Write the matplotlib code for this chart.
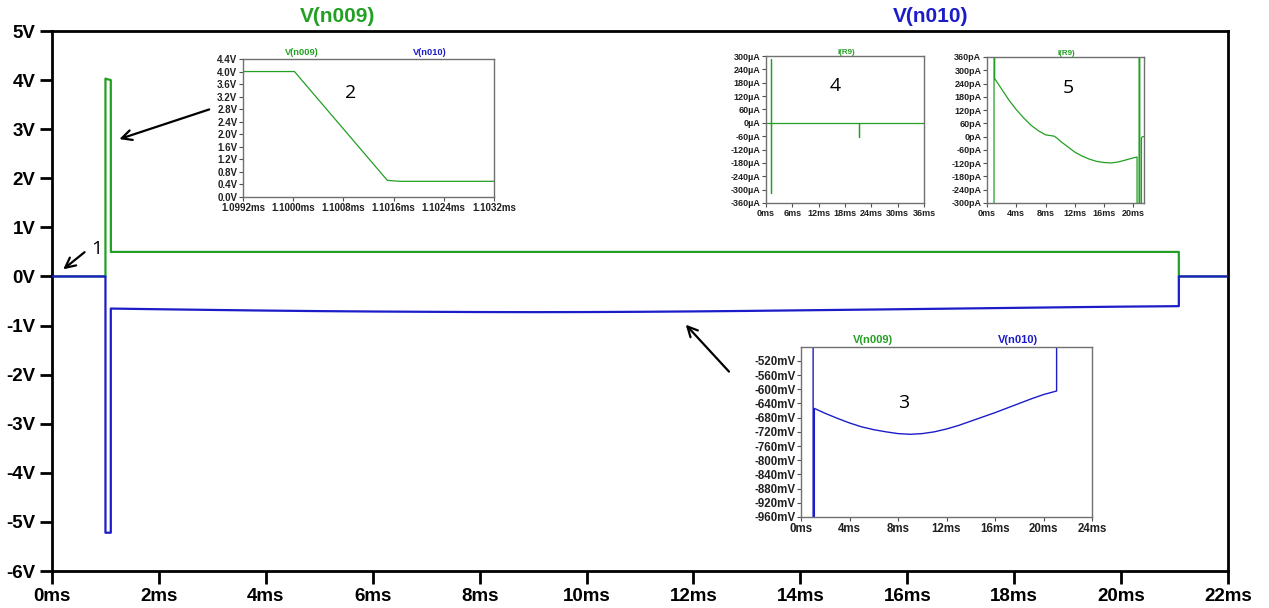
import numpy as np
import matplotlib.pyplot as plt

W, H = 1269, 608
GREEN = '#23a023'
BLUE = '#1c1cc8'
plt.rcParams['font.family'] = ['Liberation Sans', 'DejaVu Sans']

# V(n009) and V(n010), time in ms, volts
t_n009 = [0.0, 1.0, 1.0, 1.03, 1.10002, 1.1015, 1.1017, 21.08, 21.08, 22.0]
v_n009 = [0.0, 0.0, 4.03, 4.02, 4.0, 0.53, 0.5, 0.5, 0.0, 0.0]

t_n010 = [0.0, 1.0, 1.0, 1.1, 1.1, 2.0, 3.0, 4.0, 5.0, 6.0, 7.0, 8.0, 9.0,
          10.0, 11.0, 12.0, 13.0, 14.0, 15.0, 16.0, 17.0, 18.0, 19.0, 20.0,
          21.08, 21.08, 22.0]
v_n010 = [0.0, 0.0, -5.22, -5.22, -0.654, -0.668, -0.682, -0.695, -0.706,
          -0.714, -0.720, -0.725, -0.727, -0.725, -0.720, -0.712, -0.702,
          -0.690, -0.678, -0.666, -0.653, -0.640, -0.627, -0.615, -0.605,
          0.0, 0.0]

# I(R9) over the whole run, in uA
t_ir9 = [0.0, 1.1, 1.1, 1.1, 1.1, 21.1, 21.1, 21.1, 36.0]
i_ir9_ua = [0, 0, 285, -315, 0, 0, -65, 0, 0]

# I(R9) residual between the pulses, in pA (spikes run far off scale)
t_ir9_fine = [0.0, 0.05, 0.1, 0.95, 0.97, 1.03, 1.05, 2.0, 3.0, 4.0, 5.0,
              6.0, 7.0, 8.0, 8.6, 9.2, 9.6, 10.0, 11.0, 12.0, 13.0, 14.0,
              15.0, 16.0, 17.0, 18.0, 19.0, 20.0, 20.5, 20.6, 20.75, 20.8,
              20.85, 20.9, 21.1, 21.25, 21.45]
i_ir9_pa = [0, -14, -3.15e8, -3.15e8, 2.85e8, 2.85e8, 262, 215, 165, 122,
            85, 52, 27, 8, 5, 2, -8, -20, -45, -70, -88, -102, -112, -117,
            -119, -114, -105, -96, -92, -3.15e8, -3.15e8, 2.85e8, 2.85e8,
            -3.15e8, -5, 0, 0]

main_xticks = np.arange(0, 23, 2)
main_yticks = np.arange(-6, 6, 1)


def px_rect(left, top, right, bottom):
    return [left / W, 1 - bottom / H, (right - left) / W, (bottom - top) / H]


def style_inset(ax, size=5.5):
    for s in ax.spines.values():
        s.set_color('#707070')
        s.set_linewidth(1.0)
    ax.tick_params(direction='out', length=3, width=0.8, color='#505050',
                   labelsize=size, pad=1)
    for lab in ax.get_xticklabels() + ax.get_yticklabels():
        lab.set_fontweight('bold')
        lab.set_color('#202020')


fig = plt.figure(figsize=(W / 100, H / 100), dpi=100)

# main plot
ax = fig.add_axes(px_rect(52, 31, 1228, 571))
ax.plot(t_n009, v_n009, color=GREEN, lw=1.6, zorder=2)
ax.plot(t_n010, v_n010, color=BLUE, lw=1.6, zorder=3)
ax.set_xlim(0, 22)
ax.set_ylim(-6, 5)
ax.set_xticks(main_xticks)
ax.set_xticklabels([f'{v}ms' for v in main_xticks])
ax.set_yticks(main_yticks)
ax.set_yticklabels([f'{v}V' for v in main_yticks])
for s in ax.spines.values():
    s.set_linewidth(2)
ax.tick_params(direction='out', length=9, width=2, labelsize=13.5, pad=3)
for lab in ax.get_xticklabels() + ax.get_yticklabels():
    lab.set_fontweight('bold')
ax.text(0.243, 1.026, 'V(n009)', transform=ax.transAxes, color=GREEN,
        fontsize=15, fontweight='bold', ha='center', va='center')
ax.text(0.747, 1.026, 'V(n010)', transform=ax.transAxes, color=BLUE,
        fontsize=15, fontweight='bold', ha='center', va='center')

arrow = dict(arrowstyle='->', color='black', lw=1.6, mutation_scale=18)
ax.annotate('', xy=(0.17, 0.11), xytext=(0.65, 0.53), arrowprops=arrow)
ax.text(0.84, 0.55, '1', fontsize=14, family='Open Sans', ha='center', va='center')
ax.annotate('', xy=(1.21, 2.78), xytext=(2.99, 3.42), arrowprops=arrow)
ax.annotate('', xy=(11.82, -0.94), xytext=(12.7, -1.98), arrowprops=arrow)

# inset 2: falling edge of V(n009)
ax2 = fig.add_axes(px_rect(243, 59, 494, 197))
ax2.plot(t_n009, v_n009, color=GREEN, lw=0.9)
ax2.plot(t_n010, v_n010, color=BLUE, lw=0.9)
ax2.set_xlim(1.0992, 1.1032)
ax2.set_ylim(0, 4.4)
x2 = np.arange(6) * 0.0008 + 1.0992
ax2.set_xticks(x2)
ax2.set_xticklabels([f'{v:.4f}ms' for v in x2])
y2 = np.arange(12) * 0.4
ax2.set_yticks(y2)
ax2.set_yticklabels([f'{v:.1f}V' for v in y2])
style_inset(ax2, 7)
ax2.text(0.234, 1.045, 'V(n009)', transform=ax2.transAxes, color=GREEN,
         fontsize=6.7, fontweight='bold', ha='center', va='center')
ax2.text(0.744, 1.045, 'V(n010)', transform=ax2.transAxes, color=BLUE,
         fontsize=6.7, fontweight='bold', ha='center', va='center')
ax2.text(0.43, 0.753, '2', transform=ax2.transAxes, fontsize=14,
         family='Open Sans', ha='center', va='center')

# inset 3: V(n010) plateau in mV
ax3 = fig.add_axes(px_rect(801, 347, 1092, 517))
ax3.plot(t_n009, np.array(v_n009) * 1000, color=GREEN, lw=1.0)
ax3.plot(t_n010, np.array(v_n010) * 1000, color=BLUE, lw=1.0)
ax3.set_xlim(0, 24)
ax3.set_ylim(-960, -481)
x3 = np.arange(0, 25, 4)
ax3.set_xticks(x3)
ax3.set_xticklabels([f'{v}ms' for v in x3])
y3 = np.arange(-960, -519, 40)
ax3.set_yticks(y3)
ax3.set_yticklabels([f'{v}mV' for v in y3])
style_inset(ax3, 8.3)
ax3.text(0.247, 1.04, 'V(n009)', transform=ax3.transAxes, color=GREEN,
         fontsize=8, fontweight='bold', ha='center', va='center')
ax3.text(0.746, 1.04, 'V(n010)', transform=ax3.transAxes, color=BLUE,
         fontsize=8, fontweight='bold', ha='center', va='center')
ax3.text(0.354, 0.67, '3', transform=ax3.transAxes, fontsize=14,
         family='Open Sans', ha='center', va='center')

# inset 4: I(R9) full run
ax4 = fig.add_axes(px_rect(766, 56, 924, 203))
ax4.plot(t_ir9, i_ir9_ua, color=GREEN, lw=0.9)
ax4.set_xlim(0, 36)
ax4.set_ylim(-360, 300)
x4 = np.arange(0, 37, 6)
ax4.set_xticks(x4)
ax4.set_xticklabels([f'{v}ms' for v in x4])
y4 = np.arange(-360, 301, 60)
ax4.set_yticks(y4)
ax4.set_yticklabels([f'{v}µA' for v in y4])
style_inset(ax4, 6.5)
ax4.text(0.506, 1.025, 'I(R9)', transform=ax4.transAxes, color=GREEN,
         fontsize=5.8, fontweight='bold', ha='center', va='center')
ax4.text(0.437, 0.794, '4', transform=ax4.transAxes, fontsize=14,
         family='Open Sans', ha='center', va='center')

# inset 5: I(R9) residual current in pA
ax5 = fig.add_axes(px_rect(987, 57, 1144, 203))
ax5.plot(t_ir9_fine, i_ir9_pa, color=GREEN, lw=0.9)
ax5.set_xlim(0, 21.45)
ax5.set_ylim(-300, 360)
x5 = np.arange(0, 21, 4)
ax5.set_xticks(x5)
ax5.set_xticklabels([f'{v}ms' for v in x5])
y5 = np.arange(-300, 361, 60)
ax5.set_yticks(y5)
ax5.set_yticklabels([f'{v}pA' for v in y5])
style_inset(ax5, 6.5)
ax5.text(0.506, 1.025, 'I(R9)', transform=ax5.transAxes, color=GREEN,
         fontsize=5.8, fontweight='bold', ha='center', va='center')
ax5.text(0.52, 0.79, '5', transform=ax5.transAxes, fontsize=14,
         family='Open Sans', ha='center', va='center')

fig.savefig('out.png', dpi=100)
